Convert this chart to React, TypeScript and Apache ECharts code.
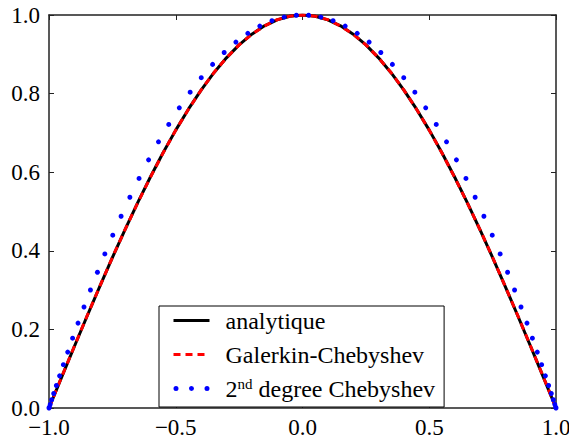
import React, { useEffect, useRef } from "react";
import * as echarts from "echarts";

// x positions (step 0.05) for the analytic and Galerkin curves
const xFine = [
  -1.0, -0.95, -0.9, -0.85, -0.8, -0.75, -0.7, -0.65, -0.6, -0.55, -0.5,
  -0.45, -0.4, -0.35, -0.3, -0.25, -0.2, -0.15, -0.1, -0.05, 0.0,
  0.05, 0.1, 0.15, 0.2, 0.25, 0.3, 0.35, 0.4, 0.45, 0.5,
  0.55, 0.6, 0.65, 0.7, 0.75, 0.8, 0.85, 0.9, 0.95, 1.0,
];
const analytique = [
  0.0, 0.0785, 0.1564, 0.2334, 0.309, 0.3827, 0.454, 0.5225, 0.5878, 0.6494, 0.7071,
  0.7604, 0.809, 0.8526, 0.891, 0.9239, 0.9511, 0.9724, 0.9877, 0.9969, 1.0,
  0.9969, 0.9877, 0.9724, 0.9511, 0.9239, 0.891, 0.8526, 0.809, 0.7604, 0.7071,
  0.6494, 0.5878, 0.5225, 0.454, 0.3827, 0.309, 0.2334, 0.1564, 0.0785, 0.0,
];
const galerkin = [
  0.0, 0.079, 0.157, 0.234, 0.309, 0.383, 0.454, 0.522, 0.587, 0.649, 0.707,
  0.76, 0.809, 0.853, 0.891, 0.924, 0.951, 0.972, 0.988, 0.997, 1.0,
  0.997, 0.988, 0.972, 0.951, 0.924, 0.891, 0.853, 0.809, 0.76, 0.707,
  0.649, 0.587, 0.522, 0.454, 0.383, 0.309, 0.234, 0.157, 0.079, 0.0,
];
// x positions of the dotted 2nd-degree points
const xCheb = [
  -1.0, -0.9988, -0.9953, -0.9895, -0.9814, -0.9709, -0.9582, -0.9433, -0.9262, -0.9069,
  -0.8855, -0.862, -0.8365, -0.809, -0.7797, -0.7485, -0.7156, -0.681, -0.6448, -0.6072,
  -0.5681, -0.5276, -0.486, -0.4432, -0.3994, -0.3546, -0.309, -0.2627, -0.2158, -0.1684,
  -0.1205, -0.0724, -0.0242,
  0.0242, 0.0724, 0.1205, 0.1684, 0.2158, 0.2627, 0.309, 0.3546, 0.3994, 0.4432,
  0.486, 0.5276, 0.5681, 0.6072, 0.6448, 0.681, 0.7156, 0.7485, 0.7797, 0.809,
  0.8365, 0.862, 0.8855, 0.9069, 0.9262, 0.9433, 0.9582, 0.9709, 0.9814, 0.9895,
  0.9953, 0.9988, 1.0,
];
const yCheb = [
  0.0, 0.0023, 0.0093, 0.0209, 0.0369, 0.0573, 0.0818, 0.1102, 0.1422, 0.1776,
  0.216, 0.257, 0.3003, 0.3455, 0.3921, 0.4397, 0.4879, 0.5362, 0.5842, 0.6314,
  0.6773, 0.7216, 0.7638, 0.8036, 0.8405, 0.8743, 0.9045, 0.931, 0.9534, 0.9717,
  0.9855, 0.9948, 0.9994,
  0.9994, 0.9948, 0.9855, 0.9717, 0.9534, 0.931, 0.9045, 0.8743, 0.8405, 0.8036,
  0.7638, 0.7216, 0.6773, 0.6314, 0.5842, 0.5362, 0.4879, 0.4397, 0.3921, 0.3455,
  0.3003, 0.257, 0.216, 0.1776, 0.1422, 0.1102, 0.0818, 0.0573, 0.0369, 0.0209,
  0.0093, 0.0023, 0.0,
];

const seriesNames = ["analytique", "Galerkin-Chebyshev", "2nd degree Chebyshev"];
const xTicks = [-1, -0.5, 0, 0.5, 1];
const xTickLabels = ["\u22121.0", "\u22120.5", "0.0", "0.5", "1.0"];
const yTicks = [0, 0.2, 0.4, 0.6, 0.8, 1.0];
const yTickLabels = ["0.0", "0.2", "0.4", "0.6", "0.8", "1.0"];

const FONT = "Liberation Serif";
const FRAME = "#222222";

function lookup(ticks: number[], labels: string[], v: number): string {
  for (let i = 0; i < ticks.length; i++) {
    if (Math.abs(ticks[i] - v) < 1e-9) return labels[i];
  }
  return "";
}

const dotsIcon =
  "path://M0,2.5a2.5,2.5 0 1,0 5,0a2.5,2.5 0 1,0 -5,0Z" +
  "M15.5,2.5a2.5,2.5 0 1,0 5,0a2.5,2.5 0 1,0 -5,0Z" +
  "M31,2.5a2.5,2.5 0 1,0 5,0a2.5,2.5 0 1,0 -5,0Z";

export default function App() {
  const ref = useRef<HTMLDivElement>(null);

  useEffect(() => {
    if (!ref.current) return;
    const chart = echarts.init(ref.current, null, { renderer: "svg" });

    const tickCommon = { show: true, inside: true, length: 5, lineStyle: { color: FRAME, width: 1 } };
    const lineCommon = { show: true, onZero: false, lineStyle: { color: FRAME, width: 1.5 } };

    chart.setOption({
      animation: false,
      backgroundColor: "#ffffff",
      textStyle: { fontFamily: FONT },
      grid: {
        left: 49,
        right: 13,
        top: 15,
        bottom: 31,
        containLabel: false,
        outerBoundsMode: "none",
      },
      xAxis: [
        {
          type: "value",
          min: -1,
          max: 1,
          interval: 0.5,
          axisLine: lineCommon,
          axisTick: tickCommon,
          splitLine: { show: false },
          axisLabel: {
            color: "#000",
            fontFamily: FONT,
            fontSize: 23,
            lineHeight: 14,
            margin: 12,
            formatter: (v: number) => lookup(xTicks, xTickLabels, v),
          },
        },
        {
          type: "value",
          position: "top",
          min: -1,
          max: 1,
          interval: 0.5,
          axisLine: lineCommon,
          axisTick: tickCommon,
          splitLine: { show: false },
          axisLabel: { show: false },
        },
      ],
      yAxis: [
        {
          type: "value",
          min: 0,
          max: 1,
          interval: 0.2,
          axisLine: lineCommon,
          axisTick: tickCommon,
          splitLine: { show: false },
          axisLabel: {
            color: "#000",
            fontFamily: FONT,
            fontSize: 23,
            lineHeight: 14,
            margin: 9,
            formatter: (v: number) => lookup(yTicks, yTickLabels, v),
          },
        },
        {
          type: "value",
          position: "right",
          min: 0,
          max: 1,
          interval: 0.2,
          axisLine: lineCommon,
          axisTick: tickCommon,
          splitLine: { show: false },
          axisLabel: { show: false },
        },
      ],
      legend: {
        orient: "vertical",
        left: 159,
        top: 306,
        padding: [2, 9, 6, 13],
        itemGap: 9,
        itemWidth: 36,
        itemHeight: 14,
        borderColor: "#000",
        borderWidth: 1,
        borderRadius: 0,
        backgroundColor: "#ffffff",
        selectedMode: false,
        lineStyle: { width: "inherit" },
        data: [
          { name: seriesNames[0], itemStyle: { opacity: 0 } },
          { name: seriesNames[1], itemStyle: { opacity: 0 } },
          { name: seriesNames[2], icon: dotsIcon },
        ],
        formatter: (name: string) =>
          name === seriesNames[2] ? "2{sup|nd} degree Chebyshev" : name,
        textStyle: {
          color: "#000",
          fontFamily: FONT,
          fontSize: 24,
          lineHeight: 25,
          padding: [0, 0, 0, 11],
          rich: {
            sup: {
              color: "#000",
              fontFamily: FONT,
              fontSize: 15,
              lineHeight: 15,
              verticalAlign: "top",
            },
          },
        },
      },
      series: [
        {
          name: seriesNames[0],
          type: "line",
          symbol: "none",
          data: xFine.map((x, i) => [x, analytique[i]]),
          lineStyle: { color: "#000000", width: 3 },
          itemStyle: { color: "#000000" },
          z: 2,
        },
        {
          name: seriesNames[1],
          type: "line",
          symbol: "none",
          data: xFine.map((x, i) => [x, galerkin[i]]),
          lineStyle: { color: "#ff0000", width: 3, type: [7, 5] },
          itemStyle: { color: "#ff0000" },
          z: 3,
        },
        {
          name: seriesNames[2],
          type: "scatter",
          symbol: "circle",
          symbolSize: 5,
          data: xCheb.map((x, i) => [x, yCheb[i]]),
          itemStyle: { color: "#0000ff", opacity: 1 },
          z: 4,
        },
      ],
    });

    return () => chart.dispose();
  }, []);

  return (
    <div
      ref={ref}
      style={{ position: "absolute", left: 0, top: 0, width: 569, height: 439 }}
    />
  );
}
